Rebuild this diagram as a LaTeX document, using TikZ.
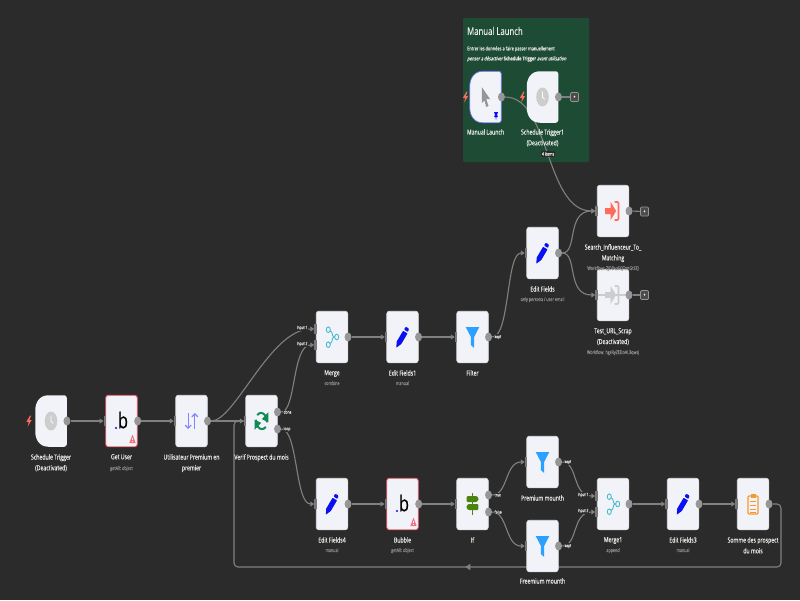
\documentclass[tikz,border=0pt]{standalone}
\usepackage{fontspec}
\setmainfont{Open Sans}[FakeStretch=0.74,FakeBold=0.25,ItalicFont={Open Sans},ItalicFeatures={FakeSlant=0.22,FakeStretch=0.74,FakeBold=0.25}]
\usetikzlibrary{arrows.meta,decorations.markings,calc,shapes.geometric}
\pgfdeclarelayer{stickylayer}\pgfdeclarelayer{edgelayer}
\pgfsetlayers{stickylayer,edgelayer,main}
\definecolor{bgc}{HTML}{2B2B2B}
\definecolor{stickyc}{HTML}{1D4B34}
\definecolor{cardc}{HTML}{F2F3F9}
\definecolor{edgec}{HTML}{808080}
\definecolor{portc}{HTML}{969696}
\definecolor{subc}{HTML}{8A8A8A}
\definecolor{redc}{HTML}{FF6D5A}
\definecolor{errc}{HTML}{F2596B}
\definecolor{penc}{HTML}{0A10F0}
\definecolor{filc}{HTML}{2CA0FF}
\definecolor{tealc}{HTML}{45BBCB}
\definecolor{lilac}{HTML}{8085FF}
\definecolor{loopc}{HTML}{0E8A52}
\definecolor{ifc}{HTML}{4B830F}
\definecolor{orc}{HTML}{F59A2E}
\definecolor{iconoff}{HTML}{CDCDCD}
\tikzset{
 x=1pt,y=-1pt,
 card/.style={fill=cardc,draw=cardc!85!gray,line width=.6pt,rounded corners=2.5pt,minimum width=31.5pt,minimum height=51.5pt,inner sep=0pt},
 errcard/.style={card,draw=errc,line width=.9pt},
 shell/.style={minimum width=31.5pt,minimum height=51.5pt,inner sep=0pt},
 title/.style={text=white!92!black,font=\fontsize{7}{10.8}\selectfont,align=center,inner sep=0pt},
 sub/.style={text=subc,font=\fontsize{5}{6}\selectfont,align=center,inner sep=0pt},
 tag/.style={text=white!88!black,fill=bgc,font=\fontsize{4.4}{5}\selectfont,inner sep=.4pt},
 port/.style={ellipse,fill=portc,minimum width=7pt,minimum height=9pt,inner sep=0pt},
 inbar/.style={fill=portc!80!black,minimum width=2.4pt,minimum height=10pt,inner sep=0pt},
 plusbox/.style={draw=portc,fill=bgc!85!white,line width=.7pt,rounded corners=1pt,minimum width=8pt,minimum height=9pt,inner sep=0pt,text=white,font=\fontsize{5}{5}\selectfont},
 wire/.style={draw=edgec,line width=1.1pt,-{Triangle[length=4pt,width=5pt]}},
 wireplain/.style={draw=edgec,line width=1.1pt},
 clockicon/.pic={\fill[iconoff](0,0)ellipse[x radius=6.3,y radius=9.5];\draw[white,line width=.8pt](0,-5.5)--(0,0)--(2.2,2.4);},
 penicon/.pic={\fill[penc,rounded corners=.4pt](-6.2,10.7)--(-5.8,4.5)--(.6,-6.2)--(5,-3.6)--(-1.2,7)--cycle;\fill[penc,rounded corners=.8pt](1.5,-7.5)--(3.2,-10.3)--(6.5,-8.5)--(5.5,-5)--cycle;},
 filtericon/.pic={\fill[filc](-6.8,-10)--(6.8,-10)--(1.6,0)--(1.6,11)--(-1.6,8)--(-1.6,0)--cycle;},
 mergeicon/.pic={\draw[tealc,line width=.9pt](-3.7,-7.3)circle[x radius=2,y radius=2.8];\draw[tealc,line width=.9pt](-3.7,7.7)circle[x radius=2,y radius=2.8];\draw[tealc,line width=.9pt](4.7,0)circle[x radius=2,y radius=2.8];
   \draw[tealc,line width=.9pt](-1.9,-6.3)--(-.3,-5)--(.8,-1)--(2.7,0)(-1.9,6.7)--(-.3,5)--(.8,1)--(2.7,0);},
 sorticon/.pic={\draw[lilac,line width=1.2pt,-{Straight Barb[length=3pt,width=6pt]}](-3.3,-8)--(-3.3,8);\draw[lilac,line width=1.2pt,-{Straight Barb[length=3pt,width=6pt]}](3.3,8)--(3.3,-8);},
 loopicon/.pic={\begin{scope}[xscale=.8,yscale=1.25]\draw[loopc,line width=2pt](-7,-1)arc(180:50:7.5);\draw[loopc,line width=2pt](7,1)arc(0:-130:7.5);
   \fill[loopc](8.5,-7)--(8.5,1)--(0.5,-1.5)--cycle;\fill[loopc](-8.5,7)--(-8.5,-1)--(-0.5,1.5)--cycle;\end{scope}},
 ificon/.pic={\begin{scope}[xscale=.72]\fill[ifc](-1.3,-11)rectangle(1.3,11);\fill[ifc,rounded corners=1pt](-8,-8)--(6,-8)--(9,-5)--(6,-2)--(-8,-2)--cycle;\fill[ifc,rounded corners=1pt](8,0)--(-6,0)--(-9,3)--(-6,6)--(8,6)--cycle;\end{scope}},
 execicon/.pic={\begin{scope}[xscale=.78]\draw[#1,line width=1.6pt,rounded corners=1pt](2,-9)--(7,-9)--(7,9)--(2,9);\fill[#1](-10,-3)--(-3,-3)--(-3,-9)--(4,0)--(-3,9)--(-3,3)--(-10,3)--cycle;\end{scope}},
 sumicon/.pic={\draw[orc,line width=1.1pt,rounded corners=1pt](-5,-8)rectangle(5,10);\fill[orc](-2.5,-10.5)rectangle(2.5,-6.5);\foreach\yy in{-3,1,5,8}\draw[orc,line width=.9pt](-3,\yy)--(3,\yy);},
 cursoricon/.pic={\begin{scope}[xscale=.75]\fill[portc](-5,-10)--(6,2)--(1,2)--(4,9)--(1,10)--(-1.5,3.5)--(-5,6)--cycle;\end{scope}},
 bolticon/.pic={\fill[redc](1,-5.5)--(-2.6,.8)--(-.3,.8)--(-1.4,5.5)--(2.6,-1)--(.3,-1)--(2,-5.5)--cycle;},
 warnicon/.pic={\fill[errc!85!white,rounded corners=.4pt](0,-4.5)--(3.2,4)--(-3.2,4)--cycle;\fill[cardc](-.4,-1.5)rectangle(.4,1.3);\fill[cardc](-.4,2)rectangle(.4,3);},
 bubbleicon/.pic={\node[inner sep=0pt,text=black,font=\fontsize{22}{22}\selectfont] at (1.5,-1) {b};\fill[penc](-5.5,7)circle(1.2);},
 triggershell/.pic={\fill[cardc,rounded corners=2.5pt](15.75,-25.75)--(15.75,25.75)--(0,25.75) .. controls (-12,25.75) and (-15.75,18) .. (-15.75,8)--(-15.75,-8) .. controls (-15.75,-18) and (-12,-25.75) .. (0,-25.75)--cycle;},
}
\begin{document}
\begin{tikzpicture}
\useasboundingbox (0,0) rectangle (800,600);
\begin{pgfonlayer}{stickylayer}
\fill[bgc](0,0)rectangle(800,600);
\fill[stickyc,rounded corners=1pt](463,18)rectangle(589,162);
\end{pgfonlayer}
% sticky text
\node[anchor=west,inner sep=0pt,text=white!92!black,font=\fontsize{10.5}{12}\selectfont] (stickyhead) at (467,31) {Manual Launch};
\node[anchor=west,inner sep=0pt,text=white!90!black,font=\fontsize{5.3}{6}\selectfont] (stickyl1) at (467,49) {Entrer les données a faire passer manuellement};
\node[anchor=west,inner sep=0pt,text=white!90!black,font=\fontsize{5.3}{6}\selectfont] (stickyl2) at (467,59) {\itshape penser a désactiver \upshape\bfseries Schedule Trigger \mdseries\itshape avant utilisation};
% cards
\node[shell] (st) at (51,421) {};
\pic at (st.center) {triggershell};\pic at (st.center) {clockicon};
\node[errcard] (gu) at (121.5,421) {};
\node[card] (ut) at (191.5,421) {};
\node[card] (ve) at (261.5,421) {};
\node[card] (me) at (332,337) {};
\node[card] (ef1) at (402.5,337) {};
\node[card] (fi) at (472.5,337) {};
\node[card] (ef) at (542.5,253) {};
\node[card] (se) at (613,211) {};
\node[card] (te) at (613,295) {};
\node[shell] (ml) at (485.5,97) {};
\pic at (ml.center) {triggershell};
\draw[penc!55!cardc,line width=.7pt,rounded corners=2.5pt](501.25,71.25)--(501.25,122.75)--(485.5,122.75) .. controls (473.5,122.75) and (469.75,115) .. (469.75,105)--(469.75,89) .. controls (469.75,79) and (473.5,71.25) .. (485.5,71.25)--cycle;
\node[shell] (st1) at (542.5,97) {};
\pic at (st1.center) {triggershell};\pic at (st1.center) {clockicon};
\node[card] (ef4) at (332,504) {};
\node[errcard] (bu) at (402.5,504) {};
\node[card] (if) at (472.5,504) {};
\node[card] (pr) at (542.5,462) {};
\node[card] (fr) at (542.5,546) {};
\node[card] (me1) at (613,504) {};
\node[card] (ef3) at (683,504) {};
\node[card] (so) at (753,504) {};
% icons
\pic at (gu.center) {bubbleicon};\pic at (bu.center) {bubbleicon};
\pic at ($(gu.center)+(11,18)$) {warnicon};\pic at ($(bu.center)+(11,18)$) {warnicon};
\pic at (ut.center) {sorticon};
\pic at (ve.center) {loopicon};
\pic at (me.center) {mergeicon};\pic at (me1.center) {mergeicon};
\foreach\n in{ef1,ef,ef4,ef3}\pic at (\n.center) {penicon};
\foreach\n in{fi,pr,fr}\pic at (\n.center) {filtericon};
\pic at (se.center) {execicon=redc};
\draw[iconoff,line width=1.2pt] (te.west)--(te.east);
\pic at (te.center) {execicon=iconoff};
\pic at (if.center) {ificon};
\pic at (so.center) {sumicon};
\pic at (ml.center) {cursoricon};
\fill[penc] (494,112)--(498,112)--(497,115)--(498,117)--(496.5,117)--(496,120)--(495.5,117)--(494,117)--(495,115)--cycle;
\pic at ($(st.west)+(-6,0)$) {bolticon};
\pic at ($(ml.west)+(-4,0)$) {bolticon};
\pic at ($(st1.west)+(-4,0)$) {bolticon};
% input bars
\foreach\n in{gu,ut,ve,ef1,fi,ef,ef4,bu,if,pr,fr,ef3,so,se,te}{\node[inbar] (bar\n) at ($(\n.west)+(-.3,0)$) {};}
\node[inbar] (barm1) at ($(me.west)+(-.3,-8)$) {};
\node[inbar] (barm2) at ($(me.west)+(-.3,8)$) {};
\node[inbar] (barn1) at ($(me1.west)+(-.3,-8)$) {};
\node[inbar] (barn2) at ($(me1.west)+(-.3,8)$) {};
% output ports
\foreach\n in{st,gu,ut,me,ef1,fi,ef,se,te,ml,st1,ef4,bu,pr,fr,me1,ef3,so}{\node[port] (p\n) at (\n.east) {};}
\node[port] (pdone) at ($(ve.east)+(0,-9)$) {};
\node[port] (ploop) at ($(ve.east)+(0,8)$) {};
\node[port] (ptrue) at ($(if.east)+(0,-9)$) {};
\node[port] (pfalse) at ($(if.east)+(0,8)$) {};
% plus boxes
\node[plusbox] (add1) at (574.5,97) {+};
\node[plusbox] (add2) at (644.5,211.5) {+};
\node[plusbox] (add3) at (644.5,295) {+};
% connectors
\begin{pgfonlayer}{edgelayer}
\foreach\a/\b in{st/gu,gu/ut,me/ef1,ef1/fi,ef4/bu,bu/if,me1/ef3,ef3/so,ut/ve}{\draw[wire] (p\a)--(bar\b);}
\draw[wire] (put) .. controls (235,421) and (270,329) .. (barm1);
\draw[wire] (pdone) .. controls (296,412) and (292,345) .. (barm2);
\draw[wire] (ploop) .. controls (298,429) and (295,504) .. (baref4);
\draw[wire] (pfi) .. controls (510,337) and (506,253) .. (baref);
\draw[wire] (pef) .. controls (578,253) and (566,211) .. (barse);
\draw[wire] (pef) .. controls (578,253) and (566,295) .. (barte);
\draw[wire] (pml) .. controls (550,97) and (545,211) .. (barse);
\draw[wire] (ptrue) .. controls (508,495) and (505,462) .. (barpr);
\draw[wire] (pfalse) .. controls (508,512) and (505,546) .. (barfr);
\draw[wire] (ppr) .. controls (578,462) and (572,496) .. (barn1);
\draw[wire] (pfr) .. controls (578,546) and (572,512) .. (barn2);
\coordinate (loopturn) at (781,567);
\coordinate (loopback) at (234,567);
\draw[wireplain,postaction={decorate},decoration={markings,mark=at position .5 with {\arrow{Triangle[length=5pt,width=6pt]}}},rounded corners=4pt]
  (pso)--(781,504)--(loopturn)--(loopback)--(234,421)--(barve);
\draw[wireplain] (pst1)--(add1);
\draw[wireplain] (pse)--(add2);
\draw[wireplain] (pte)--(add3);
\end{pgfonlayer}
% labels
\node[title,anchor=north] (l1) at (51,454) {Schedule Trigger\\(Deactivated)};
\node[title,anchor=north] (l2) at (121.5,454) {Get User};
\node[sub,anchor=north] (l2s) at (121.5,466) {getAll: object};
\node[title,anchor=north] (l3) at (191.5,454) {Utilisateur Premium en\\premier};
\node[title,anchor=north] (l4) at (261.5,454) {Verif Prospect du mois};
\node[title,anchor=north] (l5) at (332,370) {Merge};
\node[sub,anchor=north] (l5s) at (332,381) {combine};
\node[title,anchor=north] (l6) at (402.5,370) {Edit Fields1};
\node[sub,anchor=north] (l6s) at (402.5,381) {manual};
\node[title,anchor=north] (l7) at (472.5,370) {Filter};
\node[title,anchor=north] (l8) at (542.5,286) {Edit Fields};
\node[sub,anchor=north] (l8s) at (542.5,297) {only persona / user email};
\node[title,anchor=north] (l9) at (613,244) {Search\_Influenceur\_To\_\\Matching};
\node[sub,anchor=north] (l9s) at (613,266) {Workflow: ZJDDvz5QTmtGt5TJ};
\node[title,anchor=north] (l10) at (613,328) {Test\_URL\_Scrap\\(Deactivated)};
\node[sub,anchor=north] (l10s) at (613,350) {Workflow: hgsRyZEDoAL3qwsj};
\node[title,anchor=north] (l11) at (485.5,129) {Manual Launch};
\node[title,anchor=north] (l12) at (542.5,129) {Schedule Trigger1\\(Deactivated)};
\node[tag,rounded corners=1pt,inner sep=1pt,font=\fontsize{4.8}{5}\selectfont] (l12s) at (548,154) {4 items};
\node[title,anchor=north] (l13) at (332,537) {Edit Fields4};
\node[sub,anchor=north] (l13s) at (332,548) {manual};
\node[title,anchor=north] (l14) at (402.5,537) {Bubble};
\node[sub,anchor=north] (l14s) at (402.5,548) {getAll: object};
\node[title,anchor=north] (l15) at (472.5,537) {If};
\node[title,anchor=north] (l16) at (542.5,495) {Premium mounth};
\node[title,anchor=north] (l17) at (542.5,578) {Freemium mounth};
\node[title,anchor=north] (l18) at (613,537) {Merge1};
\node[sub,anchor=north] (l18s) at (613,548) {append};
\node[title,anchor=north] (l19) at (683,537) {Edit Fields3};
\node[sub,anchor=north] (l19s) at (683,548) {manual};
\node[title,anchor=north] (l20) at (753,537) {Somme des prospect\\du mois};
% port tags
\node[tag,anchor=west] (t1) at (283,412) {done};
\node[tag,anchor=west] (t2) at (283,429) {loop};
\node[tag,anchor=west] (t3) at (494,337) {kept};
\node[tag,anchor=west] (t4) at (494,495) {true};
\node[tag,anchor=west] (t5) at (494,512) {false};
\node[tag,anchor=west] (t6) at (564,462) {kept};
\node[tag,anchor=west] (t7) at (564,546) {kept};
\node[tag,anchor=east] (t8) at (308,328) {input 1};
\node[tag,anchor=east] (t9) at (308,344) {input 2};
\node[tag,anchor=east] (t10) at (589,495) {input 1};
\node[tag,anchor=east] (t11) at (589,511) {input 2};
\end{tikzpicture}
\end{document}
